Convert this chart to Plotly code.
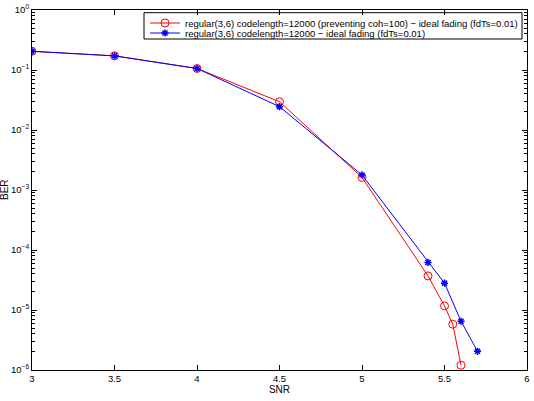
import plotly.graph_objects as go

snr_red = [3.0, 3.5, 4.0, 4.5, 5.0, 5.4, 5.5, 5.55, 5.6]
ber_red = [0.205, 0.172, 0.106, 0.0296, 0.00162, 3.7e-5, 1.17e-5, 5.8e-6, 1.2e-6]
snr_blue = [3.0, 3.5, 4.0, 4.5, 5.0, 5.4, 5.5, 5.6, 5.7]
ber_blue = [0.205, 0.172, 0.106, 0.0245, 0.00178, 6.2e-5, 2.8e-5, 6.5e-6, 2.05e-6]
name_red = "regular(3,6) codelength=12000 (preventing coh=100) \u2212 ideal fading (fdTs=0.01)"
name_blue = "regular(3,6) codelength=12000 \u2212 ideal fading (fdTs=0.01)"

x_ticks = [3, 3.5, 4, 4.5, 5, 5.5, 6]
y_exps = [-6, -5, -4, -3, -2, -1, 0]
y_tickvals = [10.0 ** e for e in y_exps]
y_ticktext = ["10<sup>%s</sup>" % (str(e).replace("-", "\u2212")) for e in y_exps]
y_minor = [m * 10.0 ** e for e in y_exps[:-1] for m in range(2, 10)]

W, H = 534, 401
L, R, T, B = 32, 7, 10, 31
PW, PH = W - L - R, H - T - B

def px(xp):
    return (xp - L) / PW

def py(yp):
    return (H - B - yp) / PH

fig = go.Figure()
fig.add_trace(go.Scatter(x=snr_red, y=ber_red, name=name_red, mode="lines+markers",
                         line=dict(color="#ff0000", width=1), legend="legend",
                         marker=dict(symbol="circle-open", size=8, color="#ff0000", line=dict(width=1))))
fig.add_trace(go.Scatter(x=snr_blue, y=ber_blue, name=name_blue, mode="lines+markers",
                         line=dict(color="#0000ff", width=1), legend="legend2",
                         marker=dict(symbol="asterisk-open", size=6, color="#0000ff", line=dict(width=1.5))))

axis_common = dict(showline=True, linecolor="black", linewidth=1, mirror="ticks",
                   ticks="inside", tickcolor="black", showgrid=False, zeroline=False,
                   automargin=False, ticklabeloverflow="allow")

fig.update_xaxes(range=[3, 6], tickvals=x_ticks, ticklen=5,
                 tickfont=dict(family="Liberation Sans, Arial, sans-serif", size=9.5, color="black"),
                 title=dict(text="SNR", font=dict(size=10, color="black"), standoff=2),
                 **axis_common)
fig.update_yaxes(type="log", range=[-6, 0], tickmode="array", tickvals=y_tickvals, ticktext=y_ticktext,
                 ticklen=5,
                 tickfont=dict(family="Liberation Sans, Arial, sans-serif", size=9.5, color="black"),
                 minor=dict(ticks="inside", ticklen=3, tickcolor="black", tickmode="array",
                            tickvals=y_minor, showgrid=False),
                 **axis_common)

leg_common = dict(xanchor="left", yanchor="top", borderwidth=0, bgcolor="rgba(0,0,0,0)",
                  font=dict(size=9.5, family="Liberation Sans, Arial, sans-serif", color="black"),
                  itemwidth=30)

fig.update_layout(
    width=W, height=H,
    margin=dict(l=L, r=R, t=T, b=B, autoexpand=False),
    paper_bgcolor="white", plot_bgcolor="white",
    font=dict(family="Liberation Sans, Arial, sans-serif", size=10, color="black"),
    showlegend=True,
    legend=dict(x=px(145), y=py(8.5), **leg_common),
    legend2=dict(x=px(145), y=py(18.5), **leg_common),
    shapes=[dict(type="rect", xref="paper", yref="paper",
                 x0=px(144), x1=px(522), y0=py(39), y1=py(12.7),
                 line=dict(color="black", width=1), fillcolor="white", layer="below")],
    annotations=[dict(text="BER", xref="paper", yref="paper", x=px(4), y=0.5,
                      xanchor="center", yanchor="middle",
                      textangle=-90, showarrow=False, font=dict(size=10, color="black"))],
)

fig.write_html("out.html")
